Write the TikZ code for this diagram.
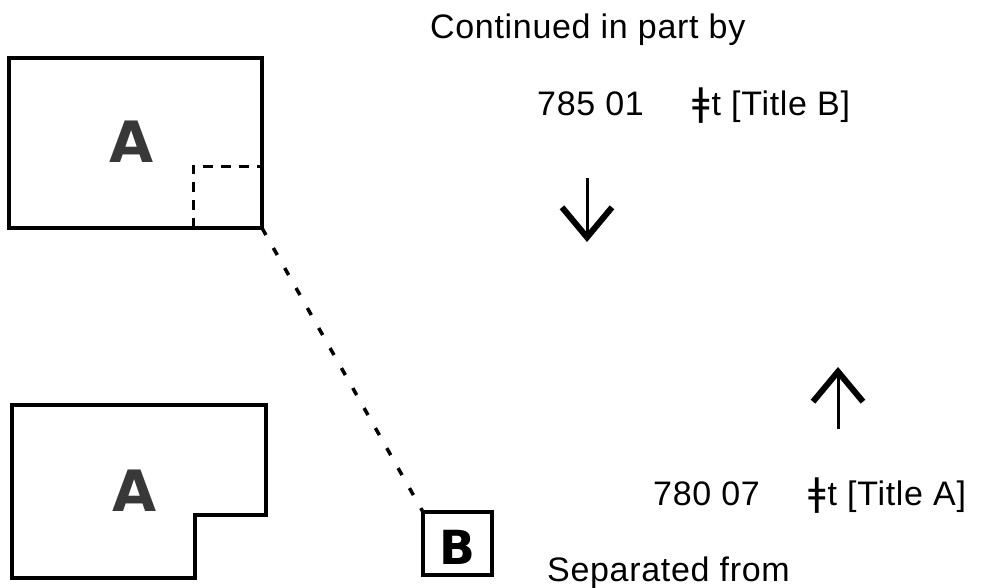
\documentclass[tikz,border=0pt]{standalone}
\usepackage{fontspec}
\setmainfont{Liberation Sans}[LetterSpace=2]
\newfontfamily\symfont{DejaVu Sans}
\usetikzlibrary{arrows.meta,calc,positioning}
\tikzset{barb/.style={line width=3pt, -{Straight Barb[length=30pt, width=50pt, line width=6pt 0]}},
  lbl/.style={font=\fontsize{34}{36}\selectfont, inner sep=0pt, anchor=base west},
  big/.style={font=\symfont\bfseries\fontsize{57}{60}\selectfont, text=black!78, inner sep=0pt},
  outl/.style={draw, line width=3.5pt, outer sep=0pt}}
\newcommand{\sfd}{{\symfont\fontsize{38}{40}\selectfont ǂ}\kern2pt}

\begin{document}
\begin{tikzpicture}[x=1pt, y=-1pt]
  \useasboundingbox (0,0) rectangle (985,587);
  % record A before the split
  \node[outl, minimum width=253pt, minimum height=170pt] (recA) at (135.5,143) {};
  \node[big] (letA) at (132,142) {A};
  \draw[line width=3pt, dash pattern=on 10pt off 8pt]
    ($(recA.south east)+(-69,0)$) |- ($(recA.south east)+(0,-62)$);
  % record A after the split
  \draw[line width=3.5pt] (12,405) -- (266,405) -- (266,515) -- (195,515) -- (195,578) -- (12,578) -- cycle;
  \node[big] (letA2) at (135,491) {A};
  % split-off part B
  \node[outl, minimum width=69pt, minimum height=63pt] (recB) at (457.5,543.5) {};
  \node[big, font=\symfont\bfseries\fontsize{47}{50}\selectfont, text=black] (letB) at (457,547) {B};
  \draw[line width=3.5pt, dash pattern=on 8pt off 15pt] (recA.south east) -- (recB.north west);
  % linking entries
  \node[lbl] (cont) at (430,38) {Continued in part by};
  \node[lbl] (numB) at (537,115) {785 01};
  \node[lbl] (subB) at (692,115) {\sfd t [Title B]};
  \node[lbl] (numA) at (653,505) {780 07};
  \node[lbl] (subA) at (808,505) {\sfd t [Title A]};
  \node[lbl] (sep) at (547,581) {Separated from};
  \coordinate (dnTop) at (587,178);
  \coordinate (dnTip) at (587,242);
  \coordinate (upTail) at (838,429);
  \coordinate (upTip) at (838,367);
  \draw[barb] (dnTop) -- (dnTip);
  \draw[barb] (upTail) -- (upTip);
\end{tikzpicture}
\end{document}
